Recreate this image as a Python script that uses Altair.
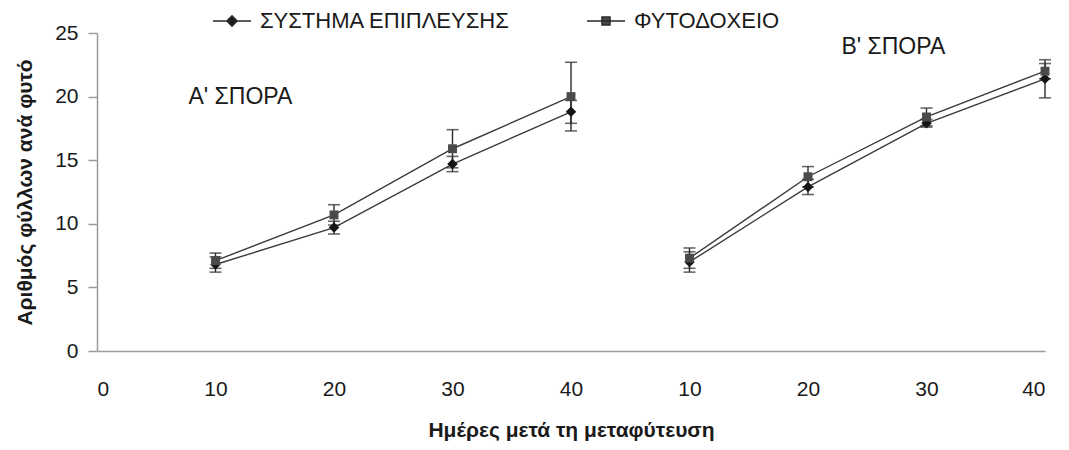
import json
import altair as alt
import pandas as pd

SERIES = ["ΣΥΣΤΗΜΑ ΕΠΙΠΛΕΥΣΗΣ", "ΦΥΤΟΔΟΧΕΙΟ"]
TICK_LABELS = ["0", "10", "20", "30", "40", "10", "20", "30", "40"]
SOWING = ["Α", "Α", "Α", "Α", "Β", "Β", "Β", "Β"]
POS = [1, 2, 3, 4, 5, 6, 7, 8]
S1_MEAN = [6.8, 9.7, 14.7, 18.8, 7.0, 12.9, 17.9, 21.4]
S1_ERR = [0.6, 0.5, 0.6, 0.9, 0.8, 0.6, 0.3, 1.5]
S2_MEAN = [7.1, 10.7, 15.9, 20.0, 7.3, 13.7, 18.4, 22.0]
S2_ERR = [0.6, 0.8, 1.5, 2.7, 0.8, 0.8, 0.7, 0.6]
ANNOT_TEXT = ["Α' ΣΠΟΡΑ", "Β' ΣΠΟΡΑ"]
ANNOT_X = [1.21, 6.72]
ANNOT_Y = [20.0, 23.9]

FONT = "Liberation Sans"

rows = []
for name, means, errs in [(SERIES[0], S1_MEAN, S1_ERR), (SERIES[1], S2_MEAN, S2_ERR)]:
    for p, s, m, e in zip(POS, SOWING, means, errs):
        rows.append({"series": name, "sowing": s, "pos": p, "mean": m,
                     "lo": round(m - e, 2), "hi": round(m + e, 2)})
df = pd.DataFrame(rows)
annot = pd.DataFrame({"text": ANNOT_TEXT, "pos": ANNOT_X, "val": ANNOT_Y})

label_expr = json.dumps(TICK_LABELS) + "[datum.value]"

x_axis = alt.Axis(values=list(range(len(TICK_LABELS))), labelExpr=label_expr,
                  title="Ημέρες μετά τη μεταφύτευση", grid=False, ticks=False,
                  domainColor="#9a9a9a", domainWidth=1.5,
                  labelFontSize=21, labelPadding=27, labelColor="#1a1a1a",
                  labelFont=FONT, titleFont=FONT,
                  titleFontSize=21, titleFontWeight="bold", titlePadding=20,
                  titleColor="#1a1a1a")
y_axis = alt.Axis(values=[0, 5, 10, 15, 20, 25], title="Αριθμός φύλλων ανά φυτό",
                  grid=False, domainColor="#9a9a9a", tickColor="#9a9a9a",
                  domainWidth=1.5, tickWidth=1.5,
                  tickSize=9, labelPadding=10, labelFontSize=21, labelColor="#1a1a1a",
                  labelFont=FONT, titleFont=FONT,
                  titleFontSize=21, titleFontWeight="bold", titlePadding=19,
                  titleColor="#1a1a1a")
x_scale = alt.Scale(domain=[0, 8], nice=False, zero=False)
y_scale = alt.Scale(domain=[0, 25], nice=False)

def X(field="pos:Q"):
    return alt.X(field, scale=x_scale, axis=x_axis)

def Y(field):
    return alt.Y(field, scale=y_scale, axis=y_axis)

base = alt.Chart(df)

lines = base.mark_line(color="#3a3a3a", strokeWidth=1.4).encode(
    x=X(), y=Y("mean:Q"), detail=["series:N", "sowing:N"], order="pos:Q")

rules = base.mark_rule(color="#2a2a2a", strokeWidth=1.4).encode(
    x=X(), y=Y("lo:Q"), y2="hi:Q")
cap_lo = base.mark_tick(orient="horizontal", size=12, thickness=1.6, color="#2a2a2a").encode(
    x=X(), y=Y("lo:Q"))
cap_hi = base.mark_tick(orient="horizontal", size=12, thickness=1.6, color="#2a2a2a").encode(
    x=X(), y=Y("hi:Q"))

DIAMOND = "M0,-1L1,0L0,1L-1,0Z"
SQUARE = "M-0.85,-0.85H0.85V0.85H-0.85Z"

pts1 = base.transform_filter(alt.datum.series == SERIES[0]).mark_point(
    shape=DIAMOND, filled=True, size=110, color="#151515", opacity=1).encode(
    x=X(), y=Y("mean:Q"))
pts2 = base.transform_filter(alt.datum.series == SERIES[1]).mark_point(
    shape=SQUARE, filled=True, size=110, color="#4a4a4a", opacity=1).encode(
    x=X(), y=Y("mean:Q"))

LEG_DIAMOND = "M-1,0H1M0,-0.27L0.27,0L0,0.27L-0.27,0Z"
LEG_SQUARE = "M-1,0H1M-0.21,-0.21H0.21V0.21H-0.21Z"

# legend-only layer: no rows drawn, domains are explicit
legend_layer = base.transform_filter("false").mark_point(
    filled=True, opacity=1, stroke="#2a2a2a", strokeWidth=1.4).encode(
    x=X(), y=Y("mean:Q"),
    color=alt.Color("series:N", scale=alt.Scale(domain=SERIES, range=["#151515", "#4a4a4a"]),
                    legend=alt.Legend(orient="none", legendX=115, legendY=-32,
                                      direction="horizontal", title=None,
                                      labelFontSize=22, labelFont=FONT, labelColor="#1a1a1a",
                                      labelLimit=500,
                                      symbolSize=1444,
                                      columnPadding=73, labelOffset=8, padding=0)),
    shape=alt.Shape("series:N", scale=alt.Scale(domain=SERIES, range=[LEG_DIAMOND, LEG_SQUARE])),
)

texts = alt.Chart(annot).mark_text(fontSize=23, font=FONT, color="#1a1a1a", align="center",
                                   baseline="middle").encode(
    x=X(), y=Y("val:Q"), text="text:N")

chart = alt.layer(lines, rules, cap_lo, cap_hi, pts1, pts2, legend_layer, texts).properties(
    width=948, height=318,
    autosize=alt.AutoSizeParams(type="none"),
    padding={"left": 89, "top": 25, "right": 16, "bottom": 91},
    background="white",
).configure_view(stroke=None)

chart.save("out.html", embed_options={"renderer": "svg", "actions": False})
